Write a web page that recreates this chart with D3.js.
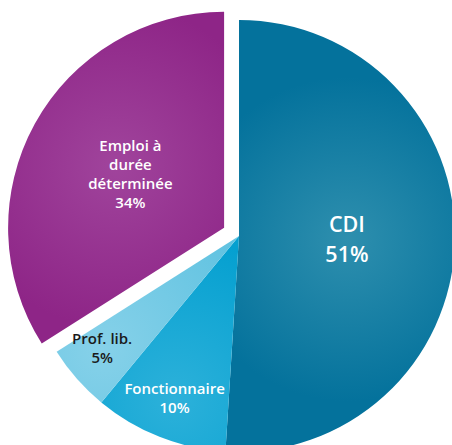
<!DOCTYPE html>
<html>
<head>
<meta charset="utf-8">
<script src="https://cdn.jsdelivr.net/npm/d3@7"></script>
<style>
  html, body { margin: 0; padding: 0; background: #ffffff; }
  svg { display: block; }
  text { font-family: "Open Sans", Lato, sans-serif; font-weight: 600; }
</style>
</head>
<body>
<svg id="chart" width="452" height="445"></svg>
<script>
// Data
const categories = ["CDI", "Fonctionnaire", "Prof. lib.", "Emploi à durée déterminée"];
const values = [51, 10, 5, 34];
const labelLines = [["CDI", "51%"], ["Fonctionnaire", "10%"], ["Prof. lib.", "5%"], ["Emploi à", "durée", "déterminée", "34%"]];
const innerColors = ["#2e8fae", "#2cb1da", "#86d1e9", "#a0449c"];
const outerColors = ["#04729c", "#05a0d0", "#62c3e1", "#8e2587"];
const textColors = ["#ffffff", "#ffffff", "#1a1a1a", "#ffffff"];
const exploded = [false, false, false, true];

const svg = d3.select("#chart");
const width = 452, height = 445;
const cx = 239, cy = 236, radius = 216;
const explodeDist = 17;

const pie = d3.pie().sort(null).value(d => d)(values);
const arc = d3.arc().innerRadius(0).outerRadius(radius);

const defs = svg.append("defs");
const g = svg.append("g").attr("transform", `translate(${cx},${cy})`);

// label placement (relative to center) per slice: radius fraction, angle tweak (deg)
const labelPos = [
  {r: 0.50, da: 0, fs: 21.5, lh: 29.5},
  {r: 0.81, da: 0, fs: 15, lh: 19},
  {r: 0.82, da: 2, fs: 15, lh: 19},
  {r: 0.50, da: 1, fs: 15, lh: 19}
];

pie.forEach((d, i) => {
  const mid = (d.startAngle + d.endAngle) / 2;
  const off = exploded[i] ? explodeDist : 0;
  const ox = Math.sin(mid) * off, oy = -Math.cos(mid) * off;
  const la = mid + labelPos[i].da * Math.PI / 180;
  const lr = radius * labelPos[i].r;
  const lx = Math.sin(la) * lr + ox, ly = -Math.cos(la) * lr + oy;

  const grad = defs.append("radialGradient")
    .attr("id", "grad" + i)
    .attr("gradientUnits", "userSpaceOnUse")
    .attr("cx", lx).attr("cy", ly).attr("fx", lx).attr("fy", ly)
    .attr("r", radius * 0.75);
  grad.append("stop").attr("offset", "0%").attr("stop-color", innerColors[i]);
  grad.append("stop").attr("offset", "100%").attr("stop-color", outerColors[i]);

  const sg = g.append("g").attr("transform", `translate(${ox},${oy})`);
  sg.append("path")
    .attr("d", arc(d))
    .attr("fill", `url(#grad${i})`);
});

// labels
pie.forEach((d, i) => {
  const mid = (d.startAngle + d.endAngle) / 2;
  const off = exploded[i] ? explodeDist : 0;
  const ox = Math.sin(mid) * off, oy = -Math.cos(mid) * off;
  const lp = labelPos[i];
  const la = mid + lp.da * Math.PI / 180;
  const lr = radius * lp.r;
  const lx = Math.sin(la) * lr + ox, ly = -Math.cos(la) * lr + oy;
  const lines = labelLines[i];
  const t = g.append("text")
    .attr("text-anchor", "middle")
    .attr("fill", textColors[i])
    .attr("font-size", lp.fs);
  const startY = ly - (lines.length - 1) * lp.lh / 2 + 4.9 * lp.fs / 14;
  lines.forEach((ln, j) => {
    t.append("tspan").attr("x", lx).attr("y", startY + j * lp.lh).text(ln);
  });
});
</script>
</body>
</html>
